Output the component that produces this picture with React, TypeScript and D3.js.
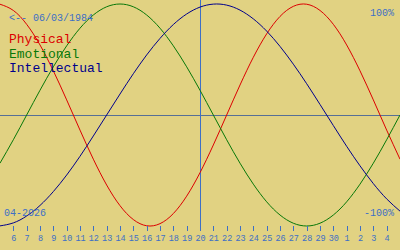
import React from "react";
import * as d3 from "d3";

// Day index along the x axis (20 = today, 20 April 2026); 31..35 are 1..5 May
const days = [5, 6, 7, 8, 9, 10, 11, 12, 13, 14, 15, 16, 17, 18, 19, 20, 21, 22, 23, 24, 25, 26, 27, 28, 29, 30, 31, 32, 33, 34, 35];

const physical = [0.998, 0.942, 0.817, 0.631, 0.398, 0.136, -0.136, -0.398, -0.631, -0.817, -0.942, -0.998, -0.979, -0.888, -0.731, -0.52, -0.27, 0, 0.27, 0.52, 0.731, 0.888, 0.979, 0.998, 0.942, 0.817, 0.631, 0.398, 0.136, -0.136, -0.398];
const emotional = [-0.434, -0.223, 0, 0.223, 0.434, 0.623, 0.782, 0.901, 0.975, 1, 0.975, 0.901, 0.782, 0.623, 0.434, 0.223, 0, -0.223, -0.434, -0.623, -0.782, -0.901, -0.975, -1, -0.975, -0.901, -0.782, -0.623, -0.434, -0.223, 0];
const intellectual = [-0.999, -0.972, -0.91, -0.815, -0.69, -0.541, -0.372, -0.189, 0, 0.189, 0.372, 0.541, 0.69, 0.815, 0.91, 0.972, 0.999, 0.99, 0.945, 0.866, 0.756, 0.618, 0.458, 0.282, 0.095, -0.095, -0.282, -0.458, -0.618, -0.756, -0.866];

const tickDays = [6, 7, 8, 9, 10, 11, 12, 13, 14, 15, 16, 17, 18, 19, 20, 21, 22, 23, 24, 25, 26, 27, 28, 29, 30, 31, 32, 33, 34];
const tickLabels = ["6", "7", "8", "9", "10", "11", "12", "13", "14", "15", "16", "17", "18", "19", "20", "21", "22", "23", "24", "25", "26", "27", "28", "29", "30", "1", "2", "3", "4"];

const todayDay = 20;
const legendNames = ["Physical", "Emotional", "Intellectual"];
const birthLabel = "<-- 06/03/1984";
const monthLabel = "04-2026";
const topLabel = "100%";
const bottomLabel = "-100%";

const W = 400;
const H = 250;
const BG = "#e1d282";
const AXIS_BLUE = "#3d6fc6";
const colors = ["#dc0000", "#087808", "#00008c"];
const MONO = "'Liberation Mono', 'DejaVu Sans Mono', monospace";

export default function App() {
  const x = d3.scaleLinear().domain([5, 35]).range([0, W]);
  const y = d3.scaleLinear().domain([-1, 1]).range([226, 4]);
  const series = [physical, emotional, intellectual];
  const line = d3
    .line<number>()
    .x((_, i) => x(days[i]))
    .y((v) => y(v))
    .curve(d3.curveNatural);

  return (
    <svg
      width={W}
      height={H}
      style={{ position: "fixed", left: 0, top: 0, display: "block" }}
      xmlns="http://www.w3.org/2000/svg"
    >
      <rect x={0} y={0} width={W} height={H} fill={BG} />
      {/* zero line */}
      <line x1={0} x2={W} y1={Math.round(y(0)) + 0.5} y2={Math.round(y(0)) + 0.5} stroke="#566f96" strokeWidth={1} />
      {/* today line */}
      <line x1={Math.round(x(todayDay)) + 0.5} x2={Math.round(x(todayDay)) + 0.5} y1={0} y2={231} stroke={AXIS_BLUE} strokeWidth={1} />
      {/* curves */}
      {series.map((s, i) => (
        <path key={i} d={line(s) || ""} fill="none" stroke={colors[i]} strokeWidth={1} />
      ))}
      {/* ticks */}
      {tickDays.map((d, i) => (
        <g key={d}>
          <line
            x1={Math.round(x(d)) + 0.5}
            x2={Math.round(x(d)) + 0.5}
            y1={226}
            y2={231}
            stroke={AXIS_BLUE}
            strokeWidth={1}
          />
          <text x={x(d) + 0.5} y={241} textAnchor="middle" fontFamily={MONO} fontSize={8.5} fill={AXIS_BLUE}>
            {tickLabels[i]}
          </text>
        </g>
      ))}
      {/* labels */}
      <text x={9} y={21} fontFamily={MONO} fontSize={10} fill={AXIS_BLUE}>
        {birthLabel}
      </text>
      <text x={394} y={16} textAnchor="end" fontFamily={MONO} fontSize={10} fill={AXIS_BLUE}>
        {topLabel}
      </text>
      <text x={394} y={216} textAnchor="end" fontFamily={MONO} fontSize={10} fill={AXIS_BLUE}>
        {bottomLabel}
      </text>
      <text x={4} y={216} fontFamily={MONO} fontSize={10} fill={AXIS_BLUE}>
        {monthLabel}
      </text>
      {legendNames.map((n, i) => (
        <text key={n} x={9} y={43 + i * 14.7} fontFamily={MONO} fontSize={13} fill={colors[i]}>
          {n}
        </text>
      ))}
    </svg>
  );
}
